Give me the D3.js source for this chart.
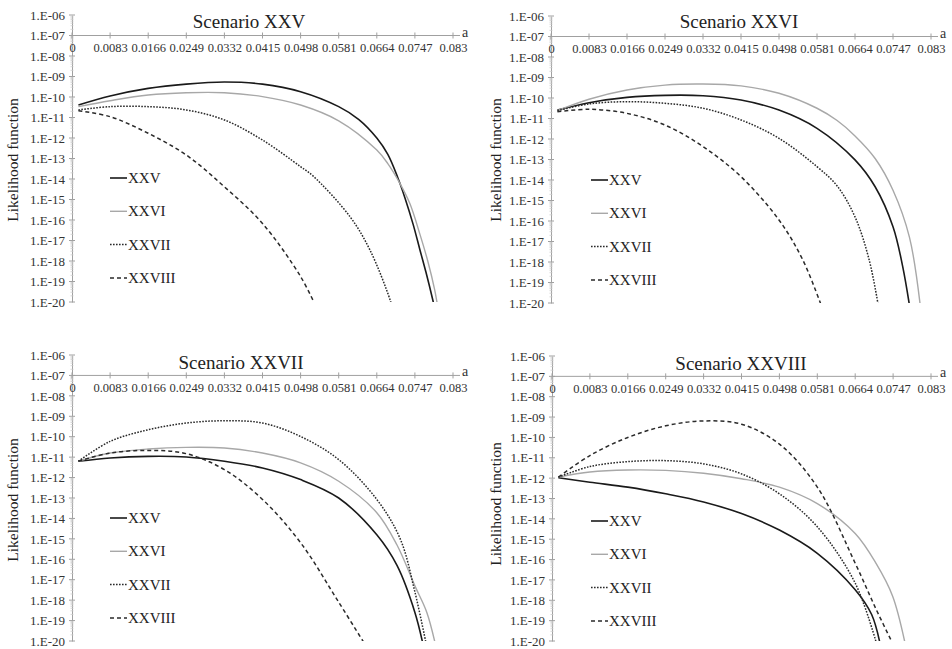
<!DOCTYPE html>
<html>
<head>
<meta charset="utf-8">
<script src="https://cdn.jsdelivr.net/npm/d3@7"></script>
<style>
  html, body { margin: 0; padding: 0; background: #fff; }
  svg, svg text { font-family: "Liberation Serif", serif !important; }
</style>
</head>
<body>
<svg id="chart" width="952" height="649" font-family="Liberation Serif, serif"></svg>
<script>
// ---------------- DATA ----------------
const panelTitles = ["Scenario XXV", "Scenario XXVI", "Scenario XXVII", "Scenario XXVIII"];
const seriesNames = ["XXV", "XXVI", "XXVII", "XXVIII"];
const aTicks = [0, 0.0083, 0.0166, 0.0249, 0.0332, 0.0415, 0.0498, 0.0581, 0.0664, 0.0747, 0.083];
const aTickLabels = ["0", "0.0083", "0.0166", "0.0249", "0.0332", "0.0415", "0.0498", "0.0581", "0.0664", "0.0747", "0.083"];
const yTickExponents = [-6, -7, -8, -9, -10, -11, -12, -13, -14, -15, -16, -17, -18, -19, -20];
const yTickLabels = ["1.E-06", "1.E-07", "1.E-08", "1.E-09", "1.E-10", "1.E-11", "1.E-12", "1.E-13",
                     "1.E-14", "1.E-15", "1.E-16", "1.E-17", "1.E-18", "1.E-19", "1.E-20"];
const xAxisLabel = "a";
const yAxisLabel = "Likelihood function";

// each point: [a, log10(likelihood)]
// Scenario XXV
const scXXV_XXV = [[0.0014,-10.39],[0.0083,-9.95],[0.0166,-9.58],[0.0249,-9.37],[0.0332,-9.27],[0.0415,-9.37],[0.0498,-9.74],[0.0581,-10.47],[0.0625,-11.1],[0.0664,-12.0],[0.0688,-12.8],[0.0710,-13.95],[0.0725,-14.9],[0.0743,-16.2],[0.0758,-17.46],[0.0771,-18.54],[0.0786,-19.9],[0.0791,-20.4]];
const scXXV_XXVI = [[0.0014,-10.47],[0.0083,-10.18],[0.0166,-9.90],[0.0249,-9.79],[0.0332,-9.79],[0.0415,-9.98],[0.0498,-10.39],[0.0581,-11.16],[0.0664,-12.59],[0.0688,-13.25],[0.0714,-14.2],[0.0736,-15.2],[0.0758,-16.7],[0.0775,-18.0],[0.0790,-19.4],[0.0798,-20.4]];
const scXXV_XXVII = [[0.0014,-10.63],[0.0083,-10.47],[0.0166,-10.47],[0.0249,-10.63],[0.0332,-11.12],[0.0415,-12.1],[0.0498,-13.4],[0.0525,-13.85],[0.0606,-15.85],[0.0649,-17.46],[0.0693,-19.9],[0.0700,-20.5]];
const scXXV_XXVIII = [[0.0014,-10.67],[0.0083,-10.96],[0.0166,-11.77],[0.0249,-12.83],[0.0332,-14.38],[0.0415,-16.17],[0.0498,-18.76],[0.0533,-20.3]];
// Scenario XXVI
const scXXVI_XXV = [[0.0014,-10.59],[0.0083,-10.23],[0.0166,-9.97],[0.0249,-9.87],[0.0332,-9.89],[0.0415,-10.1],[0.0498,-10.59],[0.0581,-11.48],[0.0664,-13.02],[0.0708,-14.33],[0.0747,-16.28],[0.0768,-18.2],[0.0785,-20.4]];
const scXXVI_XXVI = [[0.0014,-10.62],[0.0083,-10.06],[0.0166,-9.61],[0.0249,-9.37],[0.0332,-9.32],[0.0415,-9.41],[0.0498,-9.77],[0.0581,-10.5],[0.0625,-11.1],[0.0664,-11.85],[0.0708,-12.95],[0.0747,-14.5],[0.0783,-16.8],[0.0808,-20.4]];
const scXXVI_XXVII = [[0.0014,-10.62],[0.0083,-10.29],[0.0166,-10.18],[0.0249,-10.26],[0.0332,-10.5],[0.0415,-11.07],[0.0498,-11.97],[0.0581,-13.35],[0.0625,-14.29],[0.0664,-15.8],[0.0695,-17.9],[0.0717,-20.4]];
const scXXVI_XXVIII = [[0.0014,-10.67],[0.0083,-10.55],[0.0166,-10.75],[0.0249,-11.32],[0.0332,-12.37],[0.0415,-13.84],[0.0498,-15.95],[0.0550,-17.9],[0.0595,-20.4]];
// Scenario XXVII
const scXXVII_XXV = [[0.0014,-11.2],[0.0083,-11.04],[0.0166,-10.96],[0.0249,-10.99],[0.0332,-11.2],[0.0415,-11.53],[0.0498,-12.1],[0.0581,-13.0],[0.0664,-14.8],[0.0708,-16.3],[0.0747,-18.6],[0.0766,-20.3]];
const scXXVII_XXVI = [[0.0014,-11.2],[0.0083,-10.8],[0.0166,-10.6],[0.0249,-10.52],[0.0332,-10.55],[0.0415,-10.8],[0.0498,-11.28],[0.0581,-12.18],[0.0664,-13.72],[0.0708,-15.3],[0.0747,-17.3],[0.0773,-18.6],[0.0793,-20.3]];
const scXXVII_XXVII = [[0.0014,-11.2],[0.0083,-10.23],[0.0166,-9.66],[0.0249,-9.33],[0.0332,-9.22],[0.0415,-9.33],[0.0498,-9.99],[0.0581,-11.12],[0.0664,-13.07],[0.0715,-15.0],[0.0747,-17.6],[0.0773,-20.3]];
const scXXVII_XXVIII = [[0.0014,-11.2],[0.0083,-10.8],[0.0166,-10.67],[0.0249,-10.83],[0.0332,-11.61],[0.0415,-13.07],[0.0498,-15.19],[0.0581,-18.1],[0.0642,-20.3]];
// Scenario XXVIII
const scXXVIII_XXV = [[0.0014,-11.98],[0.0083,-12.2],[0.0166,-12.44],[0.0249,-12.77],[0.0332,-13.17],[0.0415,-13.74],[0.0498,-14.55],[0.0581,-15.69],[0.0664,-17.48],[0.0700,-18.7],[0.0720,-20.3]];
const scXXVIII_XXVI = [[0.0014,-11.95],[0.0083,-11.7],[0.0166,-11.6],[0.0249,-11.62],[0.0332,-11.76],[0.0415,-12.03],[0.0498,-12.44],[0.0581,-13.25],[0.0664,-14.72],[0.0710,-16.2],[0.0746,-17.8],[0.0775,-20.3]];
const scXXVIII_XXVII = [[0.0014,-11.95],[0.0083,-11.43],[0.0166,-11.19],[0.0249,-11.14],[0.0332,-11.3],[0.0415,-11.79],[0.0498,-12.77],[0.0581,-14.39],[0.0664,-17.16],[0.0713,-20.3]];
const scXXVIII_XXVIII = [[0.0014,-11.95],[0.0083,-10.89],[0.0166,-10.0],[0.0249,-9.43],[0.0332,-9.19],[0.0415,-9.35],[0.0498,-10.33],[0.0581,-12.44],[0.0664,-16.18],[0.0710,-18.45],[0.0750,-20.3]];

const panelSeries = [
  [scXXV_XXV, scXXV_XXVI, scXXV_XXVII, scXXV_XXVIII],
  [scXXVI_XXV, scXXVI_XXVI, scXXVI_XXVII, scXXVI_XXVIII],
  [scXXVII_XXV, scXXVII_XXVI, scXXVII_XXVII, scXXVII_XXVIII],
  [scXXVIII_XXV, scXXVIII_XXVI, scXXVIII_XXVII, scXXVIII_XXVIII]
];

// ---------------- LAYOUT / STYLE ----------------
const layouts = [
  { x0: 72,  x1: 453, yTop: 15,  yBot: 302, titleX: 249, titleY: 28,  ytX: 13,  ytY: 160, legX: 110, legY: 178 },
  { x0: 551, x1: 931, yTop: 16,  yBot: 303, titleX: 739, titleY: 28,  ytX: 496, ytY: 160, legX: 591, legY: 180 },
  { x0: 72,  x1: 453, yTop: 355, yBot: 641, titleX: 241, titleY: 369, ytX: 13,  ytY: 500, legX: 110, legY: 518 },
  { x0: 552, x1: 931, yTop: 356, yBot: 641, titleX: 741, titleY: 370, ytX: 496, ytY: 504, legX: 591, legY: 521 }
];
const seriesStyles = [
  { stroke: "#1a1a1a", width: 1.6, dash: null },
  { stroke: "#a8a8a8", width: 1.4, dash: null },
  { stroke: "#2a2a2a", width: 1.5, dash: "1.6,1.4" },
  { stroke: "#2a2a2a", width: 1.5, dash: "4,3" }
];
const axisColor = "#a0a0a0";
const FONT = "Liberation Serif, serif";

const svg = d3.select("#chart");

layouts.forEach((L, pi) => {
  const g = svg.append("g");
  const x = d3.scaleLinear().domain([0, 0.083]).range([L.x0, L.x1]);
  const y = d3.scaleLog().domain([1e-20, 1e-6]).range([L.yBot, L.yTop]);

  const clipId = "clip" + pi;
  g.append("clipPath").attr("id", clipId)
    .append("rect").attr("x", L.x0).attr("y", L.yTop).attr("width", L.x1 - L.x0 + 10).attr("height", L.yBot - L.yTop);

  // y axis
  const yAxis = d3.axisLeft(y)
    .tickValues(yTickExponents.map(e => Math.pow(10, e)))
    .tickFormat((d, i) => yTickLabels[i])
    .tickSize(0).tickPadding(7);
  const yg = g.append("g").attr("transform", `translate(${L.x0},0)`).call(yAxis)
    .attr("font-family", FONT);
  yg.select(".domain").attr("stroke", axisColor).attr("stroke-width", 1);
  yg.selectAll("text").attr("font-size", 13).attr("fill", "#333").attr("font-family", FONT);
  yTickExponents.forEach(e => {
    g.append("line").attr("x1", L.x0 - 3).attr("x2", L.x0 + 3)
      .attr("y1", y(Math.pow(10, e))).attr("y2", y(Math.pow(10, e)))
      .attr("stroke", axisColor).attr("stroke-width", 1);
  });
  for (let e = -20; e < -6; e++) {
    for (let m = 2; m <= 9; m++) {
      const v = m * Math.pow(10, e);
      g.append("line").attr("x1", L.x0 - 1.5).attr("x2", L.x0 + 1.5)
        .attr("y1", y(v)).attr("y2", y(v))
        .attr("stroke", "#cccccc").attr("stroke-width", 0.8);
    }
  }

  // x axis at 1e-7
  const yAx = y(1e-7);
  const xAxis = d3.axisBottom(x).tickValues(aTicks)
    .tickFormat((d, i) => aTickLabels[i]).tickSize(0).tickPadding(8);
  const xg = g.append("g").attr("transform", `translate(0,${yAx})`).call(xAxis)
    .attr("font-family", FONT);
  xg.select(".domain").remove();
  xg.selectAll("text").attr("font-size", 12.5).attr("fill", "#333").attr("font-family", FONT);
  g.append("line").attr("x1", L.x0).attr("x2", L.x1 + 7).attr("y1", yAx).attr("y2", yAx)
    .attr("stroke", axisColor).attr("stroke-width", 1);
  aTicks.forEach(t => {
    g.append("line").attr("x1", x(t)).attr("x2", x(t)).attr("y1", yAx - 3).attr("y2", yAx + 3)
      .attr("stroke", axisColor).attr("stroke-width", 1);
  });
  g.append("text").attr("x", L.x1 + 9).attr("y", yAx + 1).attr("font-size", 14)
    .attr("font-family", FONT).attr("fill", "#333").text(xAxisLabel);

  // title
  g.append("text").attr("x", L.titleX).attr("y", L.titleY).attr("text-anchor", "middle")
    .attr("font-size", 19).attr("font-family", FONT).attr("fill", "#222").text(panelTitles[pi]);

  // y axis title
  g.append("text").attr("transform", `translate(${L.ytX + 5},${L.ytY}) rotate(-90)`)
    .attr("text-anchor", "middle").attr("font-size", 15.5).attr("font-family", FONT).attr("fill", "#222")
    .text(yAxisLabel);

  // curves
  const line = d3.line().x(d => x(d[0])).y(d => y(Math.pow(10, d[1]))).curve(d3.curveCatmullRom.alpha(0.5));
  const cg = g.append("g").attr("clip-path", `url(#${clipId})`);
  panelSeries[pi].forEach((data, si) => {
    const st = seriesStyles[si];
    cg.append("path").datum(data).attr("d", line)
      .attr("fill", "none").attr("stroke", st.stroke).attr("stroke-width", st.width)
      .attr("stroke-dasharray", st.dash);
  });

  // legend
  seriesNames.forEach((name, si) => {
    const st = seriesStyles[si];
    const ly = L.legY + si * 33.3;
    g.append("line").attr("x1", L.legX).attr("x2", L.legX + 17).attr("y1", ly).attr("y2", ly)
      .attr("stroke", st.stroke).attr("stroke-width", st.width).attr("stroke-dasharray", st.dash);
    g.append("text").attr("x", L.legX + 18).attr("y", ly + 5).attr("font-size", 15)
      .attr("font-family", FONT).attr("fill", "#222").text(name);
  });
});
</script>
</body>
</html>
